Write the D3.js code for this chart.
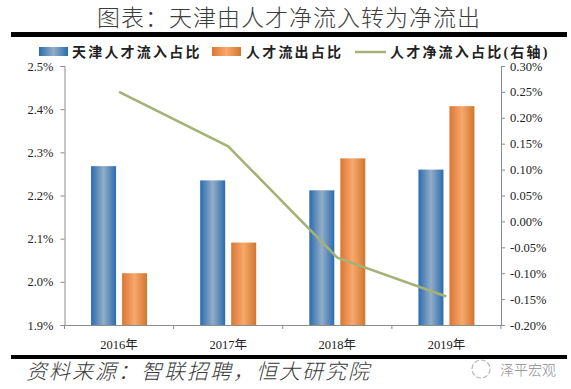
<!DOCTYPE html>
<html>
<head>
<meta charset="utf-8">
<script src="https://cdn.jsdelivr.net/npm/d3@7"></script>
<style>
    html, body { margin: 0; padding: 0; background: #fff; }
    text { font-family: "Liberation Serif", "Noto Sans CJK SC", serif; }
    .cjk { font-family: "Noto Sans CJK SC", sans-serif; }
</style>
</head>
<body>
<div id="myPlot"></div>
<script>
const categories = ["2016年", "2017年", "2018年", "2019年"];
const inflowShare = [2.268, 2.235, 2.212, 2.26];
const outflowShare = [2.02, 2.091, 2.286, 2.407];
const netInflowShare = [0.25, 0.145, -0.07, -0.145];
const leftTicks = [1.9, 2.0, 2.1, 2.2, 2.3, 2.4, 2.5];
const rightTicks = [-0.20, -0.15, -0.10, -0.05, 0, 0.05, 0.10, 0.15, 0.20, 0.25, 0.30];
const titleText = "图表：天津由人才净流入转为净流出";
const sourceText = "资料来源：智联招聘，恒大研究院";
const watermarkText = "泽平宏观";
const legendNames = ["天津人才流入占比", "人才流出占比", "人才净流入占比(右轴)"];

const svg = d3.select("#myPlot")
    .append("svg")
    .attr("width", 571)
    .attr("height", 389)
    .style("display", "block");

// Bar gradients
const defs = svg.append("defs");
function addGradient(id, stops) {
    const g = defs.append("linearGradient").attr("id", id)
        .attr("x1", 0).attr("x2", 1).attr("y1", 0).attr("y2", 0);
    stops.forEach(s => g.append("stop").attr("offset", s[0]).attr("stop-color", s[1]));
}
addGradient("blueBar", [[0, "#2a6cb0"], [0.5, "#93adc6"], [1, "#2a6cb0"]]);
addGradient("orangeBar", [[0, "#dc7634"], [0.5, "#f8a86c"], [1, "#d0762f"]]);

// Scales
const x = d3.scaleBand().domain(categories).range([64.5, 501]);
const yLeft = d3.scaleLinear().domain([1.9, 2.5]).range([325, 66]);
const yRight = d3.scaleLinear().domain([-0.20, 0.30]).range([325, 66]);
const barWidth = 25;
const barGap = 6;

// Title and rules
svg.append("text").attr("class", "cjk")
    .attr("x", 289).attr("y", 26)
    .attr("text-anchor", "middle")
    .attr("font-size", 23).attr("font-weight", 300)
    .attr("letter-spacing", 1)
    .attr("fill", "#3c3c3c")
    .text(titleText);
svg.append("rect").attr("x", 11).attr("y", 32).attr("width", 556).attr("height", 5).attr("fill", "#000");
svg.append("rect").attr("x", 11).attr("y", 355).attr("width", 556).attr("height", 4).attr("fill", "#000");

// Legend
const legendItems = [
    { swatch: 39, text: 72, fill: "url(#blueBar)" },
    { swatch: 212, text: 246, fill: "url(#orangeBar)" },
    { swatch: 355, text: 390, fill: null }
];
legendItems.forEach((d, i) => {
    if (d.fill) {
        svg.append("rect").attr("x", d.swatch).attr("y", 47).attr("width", 29).attr("height", 9).attr("fill", d.fill);
    } else {
        svg.append("line").attr("x1", d.swatch).attr("x2", d.swatch + 31)
            .attr("y1", 52).attr("y2", 52)
            .attr("stroke", "#a8b17c").attr("stroke-width", 2.5);
    }
    svg.append("text")
        .attr("x", d.text).attr("y", 57)
        .attr("font-size", 14).attr("font-weight", 700)
        .attr("letter-spacing", 2.2)
        .attr("fill", "#222")
        .text(legendNames[i]);
});

// Bars
const groups = svg.append("g").selectAll("g").data(categories).join("g");
groups.append("rect")
    .attr("x", d => x(d) + x.bandwidth() / 2 - barGap / 2 - barWidth)
    .attr("width", barWidth)
    .attr("y", (d, i) => yLeft(inflowShare[i]))
    .attr("height", (d, i) => yLeft(1.9) - yLeft(inflowShare[i]))
    .attr("fill", "url(#blueBar)");
groups.append("rect")
    .attr("x", d => x(d) + x.bandwidth() / 2 + barGap / 2)
    .attr("width", barWidth)
    .attr("y", (d, i) => yLeft(outflowShare[i]))
    .attr("height", (d, i) => yLeft(1.9) - yLeft(outflowShare[i]))
    .attr("fill", "url(#orangeBar)");

// Axes
const axisColor = "#8c8c8c";
const xAxis = svg.append("g")
    .attr("transform", "translate(0,325)")
    .call(d3.axisBottom(x).tickSize(0).tickPadding(15));
xAxis.selectAll(".tick line").remove();
// band edges get their own tick marks
xAxis.selectAll("line.edge")
    .data([...categories.map(d => x(d)), x.range()[1]])
    .join("line").attr("class", "edge")
    .attr("x1", d => d).attr("x2", d => d)
    .attr("y1", 0).attr("y2", 4)
    .attr("stroke", axisColor);

const leftAxis = svg.append("g")
    .attr("transform", "translate(64.5,0)")
    .call(d3.axisLeft(yLeft).tickValues(leftTicks).tickFormat(d => d.toFixed(1) + "%").tickSize(4).tickPadding(7));
const rightAxis = svg.append("g")
    .attr("transform", "translate(501,0)")
    .call(d3.axisRight(yRight).tickValues(rightTicks).tickFormat(d => d.toFixed(2) + "%").tickSize(4).tickPadding(5));

[xAxis, leftAxis, rightAxis].forEach(a => {
    a.select(".domain").attr("stroke", axisColor);
    a.selectAll(".tick line").attr("stroke", axisColor);
    a.selectAll("text").attr("font-size", 12.5).attr("fill", "#222")
        .style("font-family", '"Liberation Serif", "Noto Sans CJK SC", serif');
});

// Net inflow line on the right axis
const line = d3.line()
    .x((d, i) => x(categories[i]) + x.bandwidth() / 2)
    .y(d => yRight(d));
svg.append("path")
    .datum(netInflowShare)
    .attr("fill", "none")
    .attr("stroke", "#a5b276")
    .attr("stroke-width", 2.5)
    .attr("d", line);

// Source line
svg.append("text").attr("class", "cjk")
    .attr("x", 26).attr("y", 379)
    .attr("font-size", 21).attr("font-weight", 300)
    .attr("font-style", "italic")
    .attr("letter-spacing", 2)
    .attr("fill", "#3a3a3a")
    .text(sourceText);

// Watermark
svg.append("circle").attr("cx", 481).attr("cy", 369).attr("r", 9)
    .attr("fill", "none").attr("stroke", "#b5b5b5").attr("stroke-width", 1.2)
    .attr("stroke-dasharray", "5 2");
svg.append("text").attr("class", "cjk")
    .attr("x", 500).attr("y", 375)
    .attr("font-size", 14).attr("font-weight", 300)
    .attr("fill", "#8a8a8a")
    .text(watermarkText);
</script>
</body>
</html>
